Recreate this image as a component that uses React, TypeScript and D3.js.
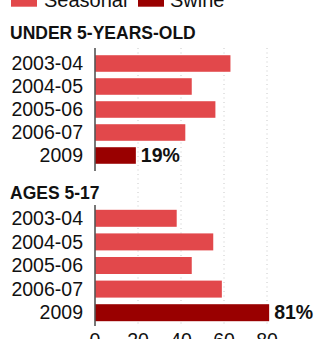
import React from "react";
import * as d3 from "d3";

const categories = ["2003-04", "2004-05", "2005-06", "2006-07", "2009"];
const under5Values = [63, 45, 56, 42, 19];
const ages517Values = [38, 55, 45, 59, 81];
const seriesKinds = ["Seasonal", "Seasonal", "Seasonal", "Seasonal", "Swine"];
const ticks = [0, 20, 40, 60, 80];
const legendItems = ["Seasonal", "Swine"];
const panelTitles = ["UNDER 5-YEARS-OLD", "AGES 5-17"];

const W = 320;
const H = 339;
const FONT = "'Liberation Sans', Arial, Helvetica, sans-serif";
const colors: Record<string, string> = { Seasonal: "#e2484b", Swine: "#990000" };

export default function App() {
  const x = d3.scaleLinear().domain([0, 80]).range([95, 267]);
  const panels = [
    { title: panelTitles[0], values: under5Values, titleY: 39, range: [52, 167], axis: [48, 171] },
    { title: panelTitles[1], values: ages517Values, titleY: 199, range: [206.5, 324.5], axis: [205, 326] },
  ];
  const legendPos = [
    { rx: 11, tx: 44 },
    { rx: 138, tx: 170 },
  ];
  return (
    <svg width={W} height={H} style={{ position: "absolute", left: 0, top: 0, background: "#fff" }} fontFamily={FONT}>
      {/* legend */}
      {legendItems.map((k, i) => (
        <g key={k}>
          <rect x={legendPos[i].rx} y={-7} width={26} height={13.7} fill={colors[k]} />
          <text x={legendPos[i].tx} y={7} fontSize={20} fill="#111">{k}</text>
        </g>
      ))}
      {/* gridlines */}
      {ticks.filter((t) => t > 0).map((t) => (
        <line key={t} x1={x(t)} x2={x(t)} y1={48} y2={327} stroke="#c8c8c8" strokeWidth={1} strokeDasharray="1,3.5" />
      ))}
      {panels.map((p, pi) => {
        const y = d3.scaleBand<string>().domain(categories).range(p.range as [number, number]).paddingInner(0.28).paddingOuter(0.14);
        return (
          <g key={pi}>
            <text x={10} y={p.titleY} fontSize={17.5} fontWeight="bold" fill="#111">{p.title}</text>
            {categories.map((c, i) => {
              const yc = (y(c) as number) + y.bandwidth() / 2;
              return (
                <g key={c}>
                  <rect x={x(0)} y={y(c)} width={x(p.values[i]) - x(0)} height={y.bandwidth()} fill={colors[seriesKinds[i]]} />
                  <text x={83} y={yc + 6.7} fontSize={19.5} textAnchor="end" fill="#111">{c}</text>
                  {seriesKinds[i] === "Swine" && (
                    <text x={x(p.values[i]) + 5} y={yc + 6.7} fontSize={19.5} fontWeight="bold" fill="#111">{p.values[i] + "%"}</text>
                  )}
                </g>
              );
            })}
            <line x1={95} x2={95} y1={p.axis[0]} y2={p.axis[1]} stroke="#555" strokeWidth={1.6} />
          </g>
        );
      })}
      {ticks.map((t) => (
        <text key={t} x={x(t)} y={347} fontSize={19.5} textAnchor="middle" fill="#111">{t}</text>
      ))}
    </svg>
  );
}
